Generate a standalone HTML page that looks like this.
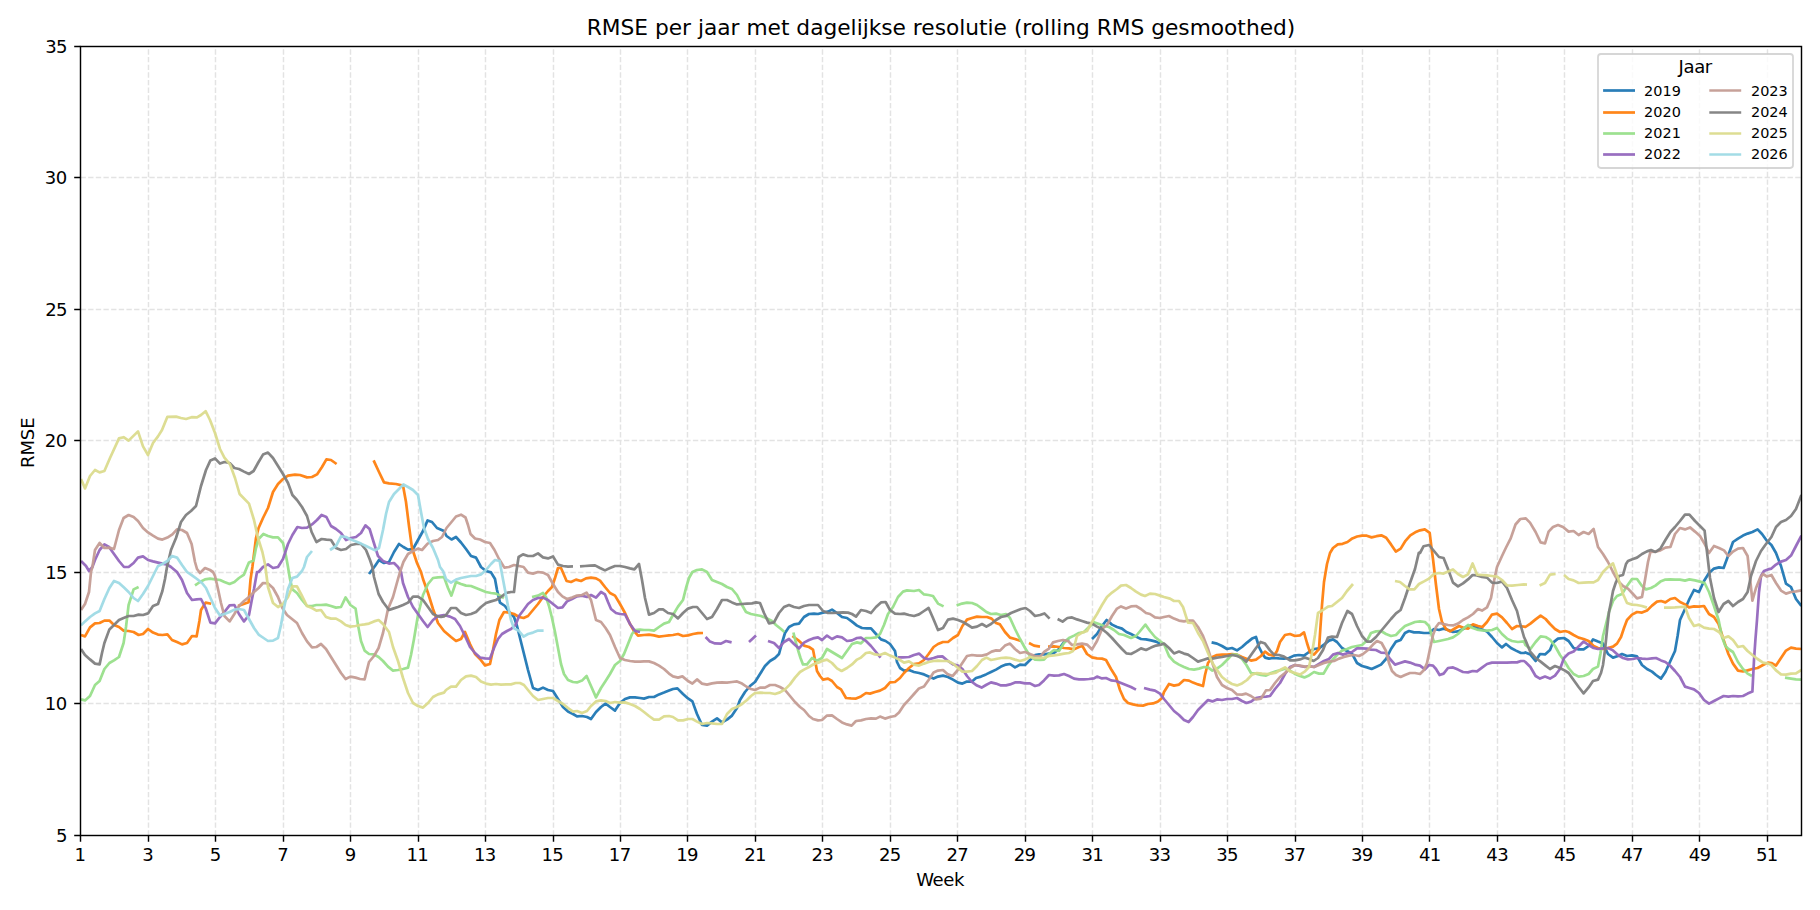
<!DOCTYPE html>
<html><head><meta charset="utf-8"><title>RMSE per jaar</title>
<style>html,body{margin:0;padding:0;background:#fff}svg{display:block}</style></head>
<body>
<svg width="1820" height="910" viewBox="0 0 1820 910" font-family="DejaVu Sans, Liberation Sans, sans-serif">
<rect width="1820" height="910" fill="#fff"/>
<path d="M148.50 835.5 V46.5 M215.50 835.5 V46.5 M283.50 835.5 V46.5 M350.50 835.5 V46.5 M418.50 835.5 V46.5 M485.50 835.5 V46.5 M553.50 835.5 V46.5 M620.50 835.5 V46.5 M687.50 835.5 V46.5 M755.50 835.5 V46.5 M822.50 835.5 V46.5 M890.50 835.5 V46.5 M957.50 835.5 V46.5 M1025.50 835.5 V46.5 M1092.50 835.5 V46.5 M1160.50 835.5 V46.5 M1227.50 835.5 V46.5 M1295.50 835.5 V46.5 M1362.50 835.5 V46.5 M1429.50 835.5 V46.5 M1497.50 835.5 V46.5 M1564.50 835.5 V46.5 M1632.50 835.5 V46.5 M1699.50 835.5 V46.5 M1767.50 835.5 V46.5 M80.5 703.50 H1801.5 M80.5 572.50 H1801.5 M80.5 440.50 H1801.5 M80.5 309.50 H1801.5 M80.5 177.50 H1801.5" stroke="#b0b0b0" stroke-opacity="0.35" stroke-width="1.444" stroke-dasharray="5.344 2.311" fill="none"/>
<clipPath id="c"><rect x="80.5" y="46.5" width="1721.0" height="789.0"/></clipPath>
<g clip-path="url(#c)" fill="none" stroke-width="2.71" stroke-linejoin="round" stroke-linecap="butt" stroke-opacity="0.95">
<path d="M369.0 574.0 L375.0 566.0 L379.0 560.0 L384.0 563.0 L389.0 562.0 L394.0 552.0 L399.0 544.0 L403.4 547.0 L408.0 549.6 L413.0 549.0 L418.0 540.0 L423.0 531.0 L427.6 520.4 L432.0 522.0 L437.0 528.0 L444.0 531.0 L446.5 536.0 L451.5 539.5 L456.0 537.0 L461.0 542.5 L466.0 549.0 L471.0 556.0 L476.0 557.6 L481.0 567.0 L486.0 571.0 L491.0 572.4 L495.0 579.0 L497.0 590.0 L500.0 602.6 L505.0 606.0 L510.0 613.0 L514.0 617.0 L517.0 626.0 L520.0 638.0 L524.0 654.0 L528.0 670.0 L533.0 688.0 L538.0 690.0 L543.0 687.6 L548.0 690.0 L553.0 691.0 L558.0 699.0 L563.0 707.0 L568.0 711.6 L573.0 714.0 L577.0 716.4 L582.0 716.0 L587.0 717.0 L591.0 719.0 L596.0 712.0 L601.0 707.0 L605.6 703.6 L610.0 707.0 L615.0 710.6 L620.0 703.0 L625.0 699.0 L630.0 697.4 L635.0 697.4 L640.0 698.0 L644.0 698.6 L649.0 697.0 L654.0 697.0 L659.0 694.4 L664.0 692.6 L669.0 690.6 L673.0 689.0 L677.4 688.4 L683.0 694.0 L688.0 698.4 L692.4 701.4 L697.0 714.0 L702.0 725.0 L707.0 725.6 L712.0 721.6 L717.0 718.4 L722.0 722.4 L727.0 719.6 L732.0 715.6 L737.0 708.0 L740.0 700.0 L745.0 692.0 L750.0 686.0 L755.0 682.0 L760.0 674.0 L765.0 666.0 L770.0 661.0 L775.0 658.0 L779.0 654.0 L782.0 643.0 L785.0 633.0 L789.0 627.0 L794.0 624.4 L799.0 623.6 L804.0 617.0 L809.0 614.0 L814.0 613.6 L818.0 614.0 L823.0 612.6 L828.0 611.6 L832.0 609.6 L837.0 613.0 L842.0 617.0 L847.0 618.0 L852.0 621.6 L857.0 625.6 L862.0 628.0 L867.0 628.4 L871.0 628.4 L876.0 634.0 L881.0 639.4 L885.6 641.0 L890.0 644.0 L895.0 651.0 L897.0 662.0 L900.0 668.0 L904.0 670.6 L909.0 670.0 L914.0 672.0 L919.0 673.0 L924.0 674.4 L928.6 676.4 L933.6 678.6 L938.0 676.6 L943.0 675.6 L948.0 677.0 L953.0 679.6 L958.0 682.6 L962.4 683.6 L967.0 681.6 L972.0 681.6 L976.0 678.0 L981.0 676.6 L986.0 674.4 L991.0 672.0 L996.0 669.6 L1001.0 666.6 L1006.0 664.6 L1010.0 664.0 L1015.0 667.4 L1020.0 664.6 L1025.0 665.0 L1030.0 660.0 L1035.0 655.0 L1039.0 654.4 L1044.0 654.4 L1049.0 653.6 L1054.0 653.0 L1059.0 649.0 L1064.0 642.0 L1069.0 639.0 M1092.0 639.0 L1097.0 634.0 L1102.0 626.0 L1106.6 620.0 L1112.0 624.6 L1117.0 627.0 L1122.0 628.6 L1126.4 632.0 L1131.0 634.0 L1136.0 636.6 L1141.0 639.0 L1146.0 639.4 L1151.0 640.4 L1156.0 641.6 L1160.0 643.6 M1211.6 642.4 L1217.0 643.6 L1222.0 646.0 L1227.0 649.0 L1232.0 648.0 L1237.0 650.4 L1242.0 647.0 L1247.0 642.6 L1252.0 638.6 L1256.0 637.0 L1259.0 647.0 L1262.0 653.0 L1265.0 657.6 L1269.0 658.6 L1274.0 658.0 L1279.0 658.4 L1284.0 658.6 L1289.0 658.0 L1294.0 655.6 L1299.0 655.0 L1304.0 655.6 L1309.0 652.0 L1314.0 649.0 L1319.0 648.4 L1324.0 644.6 L1329.0 640.6 L1333.0 639.4 L1337.0 642.0 L1342.0 648.0 L1347.0 651.0 L1352.0 653.6 L1357.0 663.0 L1362.0 666.0 L1367.0 667.4 L1371.6 669.0 L1376.0 667.0 L1381.0 664.6 L1386.0 659.0 L1391.0 649.0 L1396.0 641.6 L1400.6 640.0 L1405.0 633.0 L1409.0 631.0 L1414.0 632.4 L1419.0 632.4 L1424.0 633.0 L1429.0 633.0 L1434.0 629.0 L1439.0 630.0 L1443.6 628.6 L1448.0 630.0 L1453.0 632.0 L1458.0 631.4 L1463.0 629.0 L1468.0 626.0 L1472.6 625.4 L1477.0 628.0 L1482.0 629.6 L1487.0 631.6 L1492.0 637.0 L1497.0 643.0 L1502.0 647.4 L1506.0 644.0 L1511.0 648.0 L1516.0 650.6 L1521.0 653.0 L1524.0 653.0 L1525.4 652.4 L1530.4 654.6 L1535.6 661.0 L1540.0 654.0 L1545.0 654.4 L1550.0 650.0 L1553.0 642.6 L1558.0 638.6 L1564.0 638.0 L1568.6 641.0 L1573.6 648.0 L1578.6 649.4 L1583.6 649.4 L1588.6 646.0 L1593.0 639.4 L1598.0 641.6 L1603.0 643.6 L1608.0 654.0 L1613.0 657.6 L1618.0 656.0 L1622.0 654.0 L1627.0 656.0 L1632.0 655.4 L1637.0 656.4 L1642.0 665.0 L1647.0 669.0 L1652.0 671.6 L1656.0 675.0 L1661.0 678.6 L1665.4 672.0 L1670.4 661.0 L1675.0 651.0 L1677.6 636.0 L1680.0 620.0 L1685.0 609.0 L1689.4 599.0 L1694.0 590.0 L1699.0 592.0 L1704.0 581.0 L1709.0 573.0 L1714.0 568.6 L1719.0 567.4 L1723.6 568.0 L1728.4 555.0 L1733.0 542.0 L1738.0 538.6 L1743.0 535.6 L1747.6 533.6 L1752.4 532.0 L1757.6 529.4 L1762.0 534.0 L1767.0 541.0 L1771.4 545.0 L1776.0 553.0 L1781.0 566.0 L1786.0 583.6 L1791.0 587.0 L1796.0 599.0 L1801.4 606.0" stroke="#1f77b4"/>
<path d="M81.0 635.0 L85.0 636.4 L90.0 627.4 L95.0 623.4 L99.6 623.0 L104.4 620.6 L109.4 620.6 L114.0 625.0 L119.0 627.0 L123.6 630.6 L128.6 631.0 L133.6 632.0 L138.6 635.0 L143.0 634.0 L148.0 629.0 L153.0 632.6 L158.0 634.6 L162.4 635.0 L167.4 634.4 L172.0 640.0 L177.0 642.0 L182.0 644.4 L187.0 643.0 L192.0 636.0 L196.6 636.4 L199.4 621.0 L201.0 610.0 L205.6 602.6 L211.2 603.8 M238.0 606.1 L248.6 602.2 L250.5 579.8 L252.4 567.0 L256.0 538.0 L258.6 528.0 L263.0 518.0 L268.0 508.0 L273.0 492.0 L278.0 484.0 L283.0 479.0 L288.0 475.6 L295.0 474.6 L300.0 475.0 L307.0 477.4 L312.0 477.0 L317.0 474.4 L322.0 467.0 L326.4 459.4 L331.0 460.0 L336.6 464.0 M373.6 460.4 L379.0 472.0 L384.0 482.4 L389.0 483.4 L396.0 484.0 L403.0 485.6 L406.0 502.0 L409.0 526.0 L412.0 548.0 L417.0 563.0 L421.0 572.0 L423.0 579.0 L428.0 593.0 L433.0 609.0 L438.0 623.0 L444.0 631.0 L451.0 637.0 L456.0 641.0 L461.0 639.0 L465.0 632.0 L470.0 644.0 L475.0 654.0 L480.0 659.0 L485.0 665.4 L490.0 664.0 L493.0 650.0 L496.0 634.0 L499.4 620.0 L504.0 612.0 L509.0 612.6 L514.0 614.0 L519.0 617.0 L523.6 618.0 L528.0 616.0 L533.0 610.0 L538.0 604.0 L543.0 597.0 L548.0 591.0 L552.0 587.0 L555.0 578.0 L558.0 568.0 L561.0 568.0 L563.6 574.0 L566.6 581.0 L571.0 582.0 L576.0 579.6 L581.0 581.0 L586.0 578.4 L591.0 577.6 L596.0 578.4 L600.0 580.6 L605.0 587.0 L610.0 593.0 L615.0 595.6 L620.0 604.0 L625.0 613.0 L630.0 624.0 L634.0 631.0 L638.0 635.6 L644.0 635.0 L649.0 634.6 L654.0 635.4 L659.0 636.6 L664.0 636.0 L669.0 635.4 L673.0 635.0 L678.0 634.0 L683.0 636.0 L688.0 635.4 L693.0 634.0 L698.0 633.2 L703.0 633.0 M792.4 636.0 L798.0 640.0 L804.0 645.6 L809.0 647.0 L813.0 649.6 L815.0 660.0 L817.0 671.0 L820.0 676.0 L823.0 679.6 L828.0 678.6 L832.0 681.0 L837.0 687.0 L841.0 689.4 L846.0 698.0 L851.0 698.4 L856.0 698.6 L861.0 696.4 L866.0 693.0 L870.0 693.6 L875.0 692.0 L880.0 690.6 L885.0 688.0 L890.0 682.4 L895.0 682.0 L900.0 678.0 L904.0 673.0 L909.0 668.0 L914.0 664.0 L919.0 663.4 L924.0 660.0 L928.6 654.0 L933.6 647.0 L938.0 644.0 L943.0 642.0 L948.0 642.0 L953.0 638.0 L958.0 635.0 L962.4 626.0 L967.0 619.6 L972.0 618.0 L977.0 616.6 L982.0 617.0 L987.0 617.0 L991.6 618.6 L996.0 623.0 L1000.0 624.4 L1005.0 632.0 L1010.0 637.6 L1015.0 639.0 L1021.0 641.0 M1029.0 643.0 L1034.0 645.6 L1040.0 646.6 M1048.0 646.6 L1054.0 646.4 L1059.0 647.0 L1064.0 648.0 L1069.0 648.4 L1074.0 649.4 L1079.0 647.0 L1082.4 646.0 L1087.0 654.0 L1092.0 657.4 L1097.0 658.4 L1102.0 658.6 L1106.0 660.0 L1111.0 669.0 L1116.0 677.0 L1120.0 690.0 L1124.0 699.0 L1128.0 703.0 L1133.0 704.4 L1138.0 705.4 L1143.0 705.6 L1148.0 704.0 L1153.0 703.4 L1158.0 701.6 L1162.0 698.0 L1164.0 692.0 L1169.0 684.0 L1174.0 685.6 L1179.0 684.6 L1184.0 680.0 L1189.0 680.6 L1193.0 682.6 L1198.0 684.4 L1203.0 686.0 L1205.0 675.0 L1208.0 663.0 L1212.4 657.0 L1217.0 655.0 L1222.0 654.6 L1227.0 654.6 L1232.0 654.0 L1237.0 654.6 L1242.0 657.0 L1247.0 659.0 L1251.0 660.6 L1256.0 659.6 L1261.0 656.0 L1265.0 651.6 L1269.0 654.6 L1274.0 655.6 L1277.0 651.0 L1280.0 642.0 L1285.0 635.0 L1290.0 634.0 L1295.0 636.0 L1300.0 635.4 L1304.0 632.4 L1307.0 643.0 L1310.0 652.4 L1314.0 654.6 L1319.0 649.0 L1320.6 625.0 L1322.0 605.0 L1324.0 582.0 L1327.0 564.0 L1330.0 553.0 L1333.0 548.0 L1337.8 544.4 L1342.6 543.8 L1347.5 542.0 L1352.3 538.4 L1357.1 536.5 L1362.0 535.6 L1366.8 535.7 L1371.6 537.4 L1376.5 536.2 L1381.3 535.3 L1386.2 537.7 L1391.0 544.4 L1395.8 551.6 L1400.7 548.6 L1405.5 540.8 L1410.3 535.3 L1415.2 532.3 L1420.0 530.3 L1424.8 529.3 L1429.7 532.9 L1431.5 548.0 L1433.0 559.0 L1436.0 585.0 L1439.0 609.0 L1442.0 622.0 L1446.0 629.0 L1450.0 631.4 L1454.0 629.0 L1459.0 626.0 L1464.0 628.0 L1468.0 628.6 L1473.0 624.4 L1478.0 626.0 L1482.4 627.0 L1487.0 622.0 L1492.0 614.6 L1497.0 613.6 L1502.0 617.4 L1507.0 623.0 L1512.0 629.0 L1517.0 626.0 L1524.0 626.6 L1525.4 627.0 L1530.4 623.6 L1535.6 619.4 L1540.6 615.6 L1545.6 619.0 L1550.0 624.0 L1555.0 629.0 L1560.0 632.0 L1565.0 631.0 L1568.6 632.0 L1573.6 635.0 L1578.6 637.6 L1583.6 639.0 L1588.6 641.0 L1593.6 646.0 L1598.0 648.0 L1603.0 649.0 L1608.0 648.0 L1613.0 646.6 L1617.0 643.6 L1621.0 637.0 L1624.0 628.0 L1627.0 620.0 L1632.0 614.6 L1637.0 612.0 L1642.0 612.6 L1647.0 610.6 L1652.0 605.6 L1657.0 601.6 L1661.0 601.0 L1665.4 602.4 L1670.4 599.0 L1675.0 598.0 L1680.0 602.0 L1685.0 604.4 L1689.0 607.4 L1694.0 606.4 L1699.0 606.6 L1704.0 606.0 L1709.0 614.0 L1714.0 617.0 L1718.6 624.0 L1723.6 640.0 L1728.4 654.0 L1733.0 663.6 L1738.0 670.6 L1743.0 671.4 L1747.6 670.4 L1752.4 669.0 L1757.6 668.0 L1763.0 665.0 L1768.0 662.6 L1771.4 663.0 L1776.0 665.6 L1781.0 658.0 L1786.0 650.6 L1791.0 647.6 L1796.0 648.6 L1801.4 649.0" stroke="#ff7f0e"/>
<path d="M81.0 699.4 L85.0 700.4 L90.0 696.0 L95.0 685.0 L99.6 681.0 L104.4 669.0 L109.4 663.0 L114.0 660.4 L119.0 657.0 L123.6 643.0 L126.0 627.0 L128.6 605.0 L133.6 589.4 L138.6 587.0 M195.0 585.4 L200.0 582.0 L205.0 579.4 L210.0 578.6 L215.0 579.4 L220.0 580.0 L224.4 582.0 L229.6 584.0 L234.4 582.0 L239.0 578.0 L244.0 574.6 L247.0 567.0 L249.0 562.4 L253.6 560.4 L256.0 548.0 L258.6 539.0 L263.4 534.0 L268.0 536.0 L273.0 537.4 L278.0 537.4 L283.0 543.0 L286.0 556.0 L288.0 567.0 L290.0 579.0 L292.4 589.4 L297.0 593.0 L302.0 600.0 L307.0 606.0 L312.0 606.0 L316.4 605.0 L321.0 605.0 L326.0 604.6 L331.0 606.0 L336.0 607.6 L341.0 607.0 L345.6 597.4 L350.4 605.0 L355.6 608.6 L358.0 625.0 L361.0 641.0 L364.6 650.6 L369.0 654.0 L374.0 654.4 L378.6 657.0 L383.0 661.0 L388.0 666.6 L393.0 670.6 L398.0 670.0 L403.0 669.0 L408.0 667.6 L411.0 655.0 L414.0 639.0 L418.0 615.0 L423.0 595.0 L428.0 584.0 L433.0 578.0 L438.0 577.4 L444.0 577.0 L448.0 588.0 L451.4 595.6 L456.0 582.0 L461.0 584.0 L466.0 585.6 L471.0 586.0 L476.0 588.0 L481.0 590.0 L486.0 592.0 L491.0 593.0 L496.0 593.6 L501.0 596.0 L504.0 598.0 M532.0 597.0 L538.0 595.6 L543.0 593.0 L546.0 597.0 L549.0 606.0 L552.0 618.0 L555.0 632.0 L558.0 648.0 L561.0 664.0 L564.0 674.0 L568.0 680.0 L573.0 682.0 L577.0 682.4 L582.0 680.6 L586.6 676.0 L591.0 686.0 L596.0 697.4 L601.0 688.0 L605.6 681.0 L610.0 674.0 L615.0 665.0 L620.0 661.0 L624.0 654.0 L628.0 644.0 L632.0 634.0 L635.0 630.0 L640.0 629.6 L644.0 630.0 L649.0 630.0 L654.0 630.6 L659.0 627.0 L664.0 623.6 L669.0 622.0 L673.0 615.0 L678.0 606.6 L683.0 600.0 L686.0 588.0 L689.0 578.0 L692.4 572.0 L697.0 570.0 L702.0 569.4 L707.0 572.0 L712.0 580.0 L717.0 582.0 L722.0 584.0 L727.0 587.0 L732.0 589.0 L737.0 595.0 L742.0 605.0 L746.0 612.0 L751.0 614.0 L756.0 615.0 L761.0 616.0 L766.0 618.0 L772.0 621.0 L776.0 625.0 L781.0 629.0 L784.4 632.0 M793.4 632.5 L795.5 641.0 L798.0 650.0 L800.5 658.0 L803.0 664.4 L807.0 664.4 L812.0 658.0 L817.0 660.6 L822.0 658.0 L827.0 649.0 L832.0 652.0 L837.0 655.0 L842.0 658.0 L847.0 651.0 L852.0 644.0 L857.0 642.4 L861.0 643.4 L866.0 638.0 L871.0 638.0 L876.0 637.4 L880.0 634.0 L884.0 625.0 L888.0 614.0 L893.0 607.0 L898.0 597.0 L903.0 591.6 L907.0 590.4 L914.0 591.0 L919.0 590.0 L924.0 594.4 L928.6 595.0 L933.0 596.0 L938.0 603.6 L943.6 606.4 M956.6 605.6 L962.0 603.6 L967.0 602.6 L972.0 603.0 L977.0 605.0 L982.0 608.6 L986.4 612.0 L991.0 614.0 L996.0 613.6 L1001.0 615.0 L1006.0 614.0 L1010.0 618.0 L1015.0 629.0 L1020.0 639.0 L1025.0 648.0 L1030.0 656.0 L1035.0 659.6 L1040.0 660.0 L1044.0 659.6 L1049.0 654.0 L1054.0 650.0 L1059.0 651.0 L1064.0 643.0 L1069.0 638.0 L1074.0 635.6 L1079.0 633.0 L1084.0 632.0 L1089.0 627.0 L1094.0 622.4 L1099.0 624.0 L1104.0 626.0 L1109.0 627.0 L1114.0 630.0 L1119.0 634.0 L1124.0 635.0 L1131.0 638.0 L1136.0 636.0 L1141.0 630.0 L1145.4 624.6 L1150.0 631.0 L1155.0 637.0 L1160.0 641.0 L1164.0 644.0 L1169.0 656.0 L1174.0 661.6 L1179.0 664.6 L1184.0 667.0 L1189.0 669.0 L1194.0 669.6 L1199.0 668.6 L1204.0 667.0 L1208.0 667.4 L1212.4 670.6 L1217.0 668.6 L1222.0 665.0 L1227.0 660.0 L1232.0 654.6 L1237.0 654.6 L1242.0 659.0 L1246.4 665.0 L1251.0 673.0 L1256.0 673.6 L1261.0 675.0 L1266.0 675.6 L1271.0 673.0 L1276.0 671.4 L1281.0 670.0 L1285.0 668.6 L1290.0 670.6 L1295.0 674.0 L1300.0 676.0 L1304.4 677.4 L1309.0 675.4 L1314.0 672.0 L1319.0 673.6 L1323.6 673.6 L1328.0 666.0 L1332.4 660.0 L1337.0 655.0 L1342.0 650.6 L1347.0 649.0 L1352.0 647.0 L1357.0 646.0 L1362.0 645.0 L1367.0 640.6 L1371.0 633.0 L1376.0 631.4 L1381.0 631.0 L1386.0 634.0 L1391.0 636.0 L1396.0 635.0 L1400.6 630.0 L1405.0 626.0 L1410.0 624.0 L1415.0 622.0 L1420.0 621.4 L1425.0 622.0 L1429.0 626.0 L1431.6 635.0 L1434.0 642.0 L1439.0 641.0 L1443.6 640.0 L1448.0 639.0 L1453.0 637.4 L1458.0 634.0 L1463.0 629.0 L1468.0 625.0 L1472.6 628.0 L1477.0 629.6 L1482.0 630.4 L1487.0 630.6 L1492.0 630.0 L1497.0 628.0 L1502.0 634.0 L1507.0 638.6 L1512.0 641.0 L1518.0 642.0 L1524.0 641.4 L1525.4 645.0 L1530.4 649.0 L1535.6 642.0 L1540.6 636.4 L1545.6 637.0 L1550.0 639.6 L1555.0 646.0 L1560.0 655.0 L1565.0 662.0 L1568.6 668.0 L1573.6 674.0 L1578.6 676.6 L1583.6 676.0 L1588.6 674.0 L1593.0 669.0 L1598.0 666.6 L1600.4 654.0 L1603.0 636.0 L1606.0 624.0 L1609.0 612.0 L1613.0 601.0 L1617.0 596.0 L1622.0 594.0 L1627.0 586.0 L1632.0 579.0 L1637.0 579.0 L1642.0 586.0 L1646.0 589.4 L1651.0 588.0 L1655.4 585.6 L1660.4 581.6 L1665.4 579.6 L1670.4 579.4 L1675.0 579.6 L1680.0 579.6 L1685.0 580.6 L1689.4 579.4 L1695.0 580.4 L1700.0 581.6 L1704.6 583.0 L1709.0 592.0 L1714.0 606.0 L1718.6 620.0 L1722.0 637.0 L1725.4 646.0 L1728.4 649.0 L1733.0 652.0 L1738.0 662.0 L1743.0 669.0 L1747.6 673.6 L1752.0 676.0 M1785.0 677.6 L1791.0 678.6 L1796.0 679.4 L1801.4 679.6" stroke="#98df8a"/>
<path d="M81.0 561.0 L86.0 566.0 L89.0 571.0 L92.4 567.0 L95.0 560.0 L99.6 550.0 L104.4 544.4 L109.0 547.0 L114.0 554.0 L119.0 561.0 L124.0 567.0 L128.6 567.0 L133.6 563.0 L138.0 557.6 L143.0 556.4 L148.0 560.0 L153.0 561.4 L158.0 562.6 L162.4 563.6 L167.4 564.6 L171.0 567.0 L177.0 572.0 L182.0 580.0 L187.0 593.0 L192.0 600.0 L196.6 599.4 L201.0 599.0 L205.6 608.0 L210.4 622.6 L215.0 623.4 L220.0 617.0 L224.4 612.0 L229.6 605.4 L234.4 605.0 L239.0 614.0 L244.0 621.4 L249.0 615.0 L251.6 601.0 L254.0 589.0 L257.0 572.0 L258.6 572.0 L263.0 567.0 L268.0 564.4 L273.0 568.0 L278.0 567.0 L283.0 559.0 L288.0 544.0 L292.4 535.0 L297.4 527.0 L302.0 528.0 L307.0 527.6 L312.0 524.4 L317.0 520.0 L321.6 515.0 L326.4 517.0 L331.0 526.0 L336.0 529.0 L341.0 533.0 L346.0 540.0 L351.0 538.0 L356.0 537.0 L361.0 533.0 L365.4 525.4 L369.6 529.0 L373.6 542.0 L378.0 556.0 L383.0 561.0 L389.0 563.6 L394.0 563.0 L398.0 567.0 L401.0 572.0 L403.0 583.0 L408.0 597.0 L413.0 607.0 L418.0 614.0 L423.0 621.0 L427.6 627.0 L433.0 620.0 L438.0 616.0 L444.0 615.0 L450.0 616.6 L455.0 619.0 L460.0 626.0 L465.0 636.0 L470.0 647.0 L475.0 653.0 L480.0 657.6 L485.0 658.4 L490.0 658.6 L494.0 648.0 L498.0 639.0 L502.0 634.0 L507.0 631.0 L511.0 629.0 L515.6 625.0 L519.0 616.0 L523.6 610.0 L528.0 604.0 L533.0 600.0 L538.0 598.0 L543.0 597.6 L548.0 600.0 L553.0 604.0 L558.0 608.0 L562.4 607.4 L567.0 601.4 L572.0 599.0 L577.0 596.4 L582.0 595.6 L587.0 597.0 L591.0 595.0 L596.0 597.6 L601.0 592.0 L605.0 594.4 L608.0 602.0 L611.0 609.0 L616.0 613.0 L620.0 614.0 L625.0 614.4 L630.0 624.0 L635.0 631.0 L640.0 632.0 M705.6 637.0 L710.0 641.6 L715.0 643.4 L721.0 643.6 L726.0 641.0 L731.6 642.4 M749.0 642.0 L756.0 635.6 M768.0 641.0 L774.0 643.0 L779.0 648.0 L784.0 642.0 L789.0 639.0 L794.0 644.0 L799.0 648.4 L804.0 642.6 L809.0 640.0 L813.0 638.4 L818.0 637.4 L822.0 640.0 L827.0 635.6 L832.0 639.0 L837.0 636.4 L842.0 637.4 L847.0 641.0 L852.0 640.4 L857.0 638.0 L861.0 637.6 L866.0 641.0 L871.0 646.0 L876.0 652.0 L880.6 657.6 M898.0 657.4 L903.0 657.4 L909.0 657.0 L914.0 655.0 L919.0 653.6 L924.0 658.0 L928.6 659.4 L933.6 658.0 L938.0 656.6 L942.4 656.4 L948.0 661.0 L953.0 664.4 L958.0 665.6 L962.4 669.0 L967.0 676.0 L972.0 682.0 L977.0 685.6 L981.6 687.6 L986.0 685.0 L991.0 682.4 L996.0 683.6 L1001.0 685.4 L1006.0 685.4 L1010.0 684.4 L1015.0 682.4 L1020.0 682.4 L1025.0 683.4 L1030.0 683.4 L1035.0 686.0 L1039.0 685.0 L1044.0 680.4 L1049.0 675.0 L1054.0 675.6 L1059.0 675.4 L1064.0 674.0 L1069.0 676.0 L1074.0 678.6 L1079.0 679.4 L1084.0 679.4 L1089.0 679.0 L1094.0 678.4 L1097.0 676.6 L1102.0 678.4 L1106.0 678.0 L1111.0 680.4 L1116.0 681.0 L1121.0 683.0 L1126.0 685.0 L1131.0 687.0 L1136.0 689.6 M1144.0 688.0 L1150.0 689.6 L1155.0 690.6 L1160.0 693.6 L1164.0 699.0 L1169.0 705.0 L1174.0 711.0 L1179.0 715.0 L1184.0 720.0 L1188.6 722.0 L1193.0 717.0 L1198.0 710.0 L1203.0 705.0 L1208.0 700.0 L1212.4 701.4 L1217.0 699.4 L1222.0 700.0 L1227.0 699.0 L1232.0 699.0 L1237.0 698.0 L1242.0 701.0 L1246.4 703.0 L1251.0 701.6 L1256.0 698.0 L1261.0 697.0 L1266.0 696.6 L1270.0 696.0 L1275.0 689.0 L1280.0 683.0 L1285.0 674.0 L1290.0 667.0 L1295.0 665.0 L1300.0 666.0 L1305.0 667.0 L1309.0 666.0 L1314.0 667.0 L1319.0 664.0 L1324.0 661.0 L1329.0 659.0 L1333.0 654.6 L1338.0 653.0 L1343.0 654.6 L1348.0 653.0 L1352.0 652.0 L1357.0 648.4 L1362.0 648.4 L1367.0 648.6 L1371.0 649.6 L1376.0 650.0 L1381.0 652.6 L1386.0 653.0 L1390.0 659.0 L1395.0 664.6 L1400.0 663.0 L1405.0 661.4 L1410.0 662.6 L1415.0 664.6 L1420.0 665.6 L1425.0 669.4 L1429.0 665.0 L1433.0 665.6 L1436.0 669.0 L1439.6 675.0 L1443.6 673.6 L1448.0 668.0 L1453.0 667.4 L1458.0 669.6 L1463.0 672.0 L1468.0 672.4 L1472.6 671.0 L1477.0 671.4 L1482.0 667.6 L1487.0 664.0 L1492.0 662.6 L1497.0 662.6 L1502.0 662.6 L1507.0 662.6 L1512.0 662.4 L1517.0 662.4 L1521.0 661.0 L1524.0 661.0 L1525.4 662.0 L1530.4 667.0 L1535.6 676.0 L1540.0 678.6 L1545.0 676.6 L1550.0 678.6 L1555.0 675.6 L1560.0 669.0 L1564.0 658.0 L1568.6 653.6 L1573.6 651.6 L1578.6 646.4 L1583.6 641.6 L1588.6 645.0 L1593.6 648.0 L1598.0 649.0 L1603.0 648.4 L1608.0 648.0 L1613.0 650.4 L1618.0 655.0 L1623.0 658.0 L1628.0 659.4 L1633.0 659.0 L1637.0 658.0 L1642.0 658.6 L1647.0 659.0 L1652.0 658.4 L1656.0 658.0 L1661.0 660.4 L1665.4 662.0 L1670.4 666.0 L1675.0 671.0 L1680.0 677.0 L1685.0 686.6 L1689.4 688.0 L1694.0 689.4 L1699.0 693.0 L1704.0 700.0 L1709.0 703.6 L1714.0 701.0 L1719.0 698.4 L1723.6 696.0 L1728.4 696.6 L1733.0 696.0 L1738.0 696.4 L1743.0 696.0 L1747.6 693.6 L1752.4 691.6 L1754.0 660.0 L1755.4 640.0 L1757.0 620.0 L1759.0 592.0 L1761.0 576.0 L1764.0 571.0 L1768.0 569.4 L1771.4 568.6 L1776.0 564.6 L1781.0 561.6 L1786.0 560.0 L1791.0 555.6 L1796.0 546.0 L1801.4 535.6" stroke="#9467bd"/>
<path d="M81.0 610.0 L85.0 604.0 L89.0 592.0 L91.0 572.0 L92.4 567.0 L95.0 550.0 L99.6 543.0 L104.4 548.0 L109.0 547.6 L114.0 549.0 L119.0 530.0 L123.6 518.0 L128.6 515.0 L133.6 517.0 L138.0 521.0 L143.0 528.0 L148.0 532.4 L153.0 535.6 L158.0 538.6 L162.4 539.6 L167.4 537.6 L172.4 534.4 L177.0 529.4 L182.0 530.0 L187.0 533.0 L191.6 544.0 L195.0 562.0 L197.0 569.0 L200.0 573.0 L205.0 568.0 L210.0 570.0 L213.0 572.0 L215.0 576.0 L218.0 589.0 L221.0 603.0 L224.4 616.0 L229.6 621.4 L234.4 614.0 L239.0 606.0 L244.0 601.0 L249.0 597.0 L254.0 592.0 L258.6 588.0 L263.0 583.0 L268.0 583.4 L273.0 588.0 L278.0 597.0 L282.4 608.0 L287.0 615.0 L292.0 619.0 L297.0 623.0 L302.0 633.0 L307.0 641.4 L312.0 647.4 L316.4 647.0 L321.0 644.0 L326.0 649.0 L331.0 657.0 L336.0 665.0 L341.0 673.0 L345.6 679.0 L350.4 676.6 L355.6 677.6 L360.0 679.0 L364.6 679.4 L369.0 662.0 L374.0 656.0 L378.6 648.0 L383.0 633.0 L388.0 609.0 L393.0 597.0 L398.0 579.0 L400.0 572.0 L403.4 562.0 L408.0 554.0 L413.0 551.0 L418.0 548.6 L422.0 550.0 L427.6 543.6 L433.0 541.0 L438.0 540.0 L442.0 537.0 L444.0 533.0 L446.5 528.0 L451.5 522.0 L456.0 516.5 L461.0 514.7 L465.5 517.5 L468.0 525.0 L470.5 534.0 L475.0 538.5 L480.0 539.5 L485.0 542.0 L490.0 543.0 L494.5 550.0 L499.0 559.0 L504.4 567.6 L509.0 567.0 L514.0 565.0 L519.0 566.0 L523.6 567.0 L528.0 572.6 L533.0 573.6 L538.0 572.0 L543.0 572.6 L548.0 575.0 L553.0 584.0 L558.0 592.0 L562.4 596.4 L567.0 599.0 L572.0 597.6 L577.0 595.6 L582.0 595.0 L586.6 592.6 L591.0 600.0 L594.0 612.0 L596.0 620.0 L601.0 622.0 L605.6 628.0 L610.0 635.0 L615.0 647.0 L620.0 658.0 L625.0 660.0 L630.0 661.0 L635.0 661.6 L640.0 661.6 L644.0 661.4 L649.0 661.4 L654.0 663.0 L659.0 665.6 L664.0 669.0 L669.0 673.6 L673.0 676.4 L678.0 677.6 L682.4 676.4 L688.0 681.0 L692.4 683.6 L697.0 679.4 L702.0 683.6 L707.0 684.6 L712.0 683.4 L717.0 682.6 L722.0 682.4 L727.0 682.6 L732.0 682.0 L737.0 681.4 L742.0 683.6 L747.0 687.0 L751.0 689.0 L755.0 690.0 L760.0 687.6 L765.0 687.6 L770.0 685.0 L775.0 685.0 L780.0 687.0 L785.0 690.0 L790.0 696.0 L795.0 702.0 L800.0 707.0 L804.0 710.0 L809.0 716.0 L813.0 719.0 L818.0 720.4 L822.0 720.0 L827.0 715.6 L832.0 715.4 L837.0 719.0 L842.0 722.4 L847.0 724.4 L851.6 725.6 L856.0 721.0 L861.0 720.4 L866.0 719.0 L871.0 718.4 L876.0 718.6 L880.0 716.6 L885.0 718.6 L890.0 717.0 L895.0 716.0 L899.0 712.4 L904.0 705.0 L909.0 699.6 L914.0 694.0 L919.0 688.4 L924.0 686.6 L928.6 680.0 L933.6 672.4 L938.0 670.6 L943.0 670.0 L948.0 674.4 L952.6 676.0 L957.0 671.0 L962.0 663.4 L967.0 656.0 L972.0 655.0 L977.0 655.6 L982.0 655.6 L987.0 654.4 L991.6 651.6 L996.0 650.4 L1000.0 650.6 L1005.0 645.6 L1010.0 643.6 L1015.0 649.0 L1020.0 653.0 L1025.0 652.0 L1030.0 654.0 L1035.0 656.0 L1040.0 656.6 L1044.4 651.6 L1049.0 648.6 L1053.0 642.4 L1058.0 641.0 L1063.0 640.0 L1068.0 641.0 L1072.0 645.0 L1077.0 644.4 L1082.0 643.6 L1087.0 644.6 L1092.0 649.4 L1097.0 641.0 L1102.0 629.0 L1107.0 625.0 L1112.0 616.0 L1117.0 608.6 L1121.0 606.4 L1126.0 608.6 L1131.0 606.4 L1136.0 606.0 L1141.0 609.0 L1146.0 613.0 L1150.0 614.0 L1155.0 617.4 L1160.0 618.0 L1164.0 617.0 L1169.0 616.0 L1174.0 618.6 L1179.0 620.6 L1184.0 621.4 L1188.0 620.6 L1193.0 620.6 L1198.0 627.0 L1203.0 636.0 L1208.0 649.0 L1212.4 663.0 L1217.0 677.0 L1222.0 685.0 L1227.0 688.0 L1232.0 690.0 L1237.0 694.4 L1242.0 694.6 L1246.0 693.6 L1251.0 696.0 L1256.0 699.4 L1261.0 698.6 L1266.0 690.4 L1270.0 690.0 L1275.0 683.0 L1280.0 677.0 L1285.0 673.0 L1290.0 668.0 L1295.0 665.0 L1300.0 665.6 L1305.0 666.6 L1309.0 666.4 L1314.0 667.0 L1319.0 665.0 L1324.0 663.0 L1329.0 661.6 L1334.0 661.0 L1339.0 658.6 L1344.0 657.0 L1349.0 655.6 L1354.0 655.0 L1359.0 656.0 L1363.0 654.0 L1368.0 650.0 L1373.0 644.6 L1377.0 641.0 L1381.6 643.0 L1386.0 651.0 L1389.0 663.0 L1392.0 671.0 L1396.0 675.0 L1400.6 677.0 L1405.0 675.0 L1410.0 673.0 L1415.0 673.0 L1420.0 674.0 L1424.0 670.0 L1427.0 663.0 L1430.0 649.0 L1433.0 635.0 L1436.0 627.0 L1439.0 623.0 L1443.6 624.0 L1448.0 625.0 L1453.0 625.4 L1458.0 623.6 L1463.0 620.0 L1468.0 617.4 L1473.0 614.0 L1478.0 609.0 L1482.0 610.6 L1487.0 607.4 L1491.0 598.0 L1494.0 581.0 L1497.0 567.0 L1502.0 556.0 L1505.8 548.0 L1510.7 538.4 L1515.5 524.5 L1520.3 519.0 L1525.8 518.4 L1530.0 522.6 L1535.6 532.0 L1540.6 542.4 L1545.0 543.4 L1548.6 531.6 L1553.0 527.0 L1558.0 525.0 L1563.0 527.0 L1568.6 531.6 L1573.6 531.0 L1578.6 535.0 L1583.6 532.0 L1588.6 534.0 L1593.6 529.0 L1598.0 547.0 L1603.0 554.0 L1608.0 562.0 L1613.0 572.0 L1618.0 581.0 L1623.0 586.0 L1628.0 588.6 L1633.0 594.0 L1637.0 598.4 L1642.0 597.0 L1645.0 580.0 L1648.0 562.0 L1650.4 552.0 L1655.4 551.6 L1660.4 550.4 L1665.4 547.6 L1670.4 547.0 L1675.0 534.0 L1680.0 528.0 L1685.0 529.4 L1690.0 527.4 L1695.0 531.6 L1700.0 536.0 L1705.0 544.6 L1709.0 553.0 L1714.0 546.0 L1719.0 548.0 L1724.0 550.4 L1728.4 556.0 L1733.0 551.6 L1738.0 548.6 L1743.0 548.0 L1747.6 556.0 L1750.0 578.0 L1752.4 600.6 L1756.0 588.0 L1760.0 578.0 L1763.0 574.0 L1767.0 576.6 L1771.4 575.0 L1776.0 583.0 L1781.0 590.6 L1786.0 593.6 L1791.0 592.0 L1796.0 591.4 L1801.4 590.4" stroke="#c49c94"/>
<path d="M81.0 649.0 L85.0 655.0 L90.0 659.4 L95.0 663.6 L99.6 664.4 L102.0 653.0 L104.4 643.0 L109.4 629.4 L114.0 625.0 L119.0 620.0 L123.6 618.0 L128.6 616.0 L133.6 616.0 L138.6 614.6 L143.0 615.0 L148.0 613.4 L153.0 606.0 L158.0 604.0 L162.4 591.0 L165.0 579.0 L167.0 567.0 L171.0 550.0 L176.0 538.0 L181.0 522.0 L186.0 515.0 L191.0 511.0 L196.0 506.0 L201.0 486.0 L206.0 470.0 L210.4 460.4 L215.0 458.4 L220.0 463.6 L224.4 462.0 L229.6 463.0 L234.4 468.0 L239.0 469.0 L244.0 471.6 L249.0 474.0 L253.6 471.0 L258.0 463.0 L263.0 454.6 L268.0 452.6 L273.0 458.0 L278.0 466.0 L283.0 474.0 L288.0 483.0 L292.4 495.0 L297.0 500.0 L302.0 507.0 L307.0 516.0 L311.6 532.0 L316.4 542.0 L321.6 539.0 L326.4 539.6 L331.0 540.0 L336.0 548.0 L341.0 550.0 L346.0 549.0 L351.0 545.0 L356.0 544.0 L361.0 544.0 L366.0 550.0 L370.0 560.0 L372.4 567.0 L374.0 577.0 L378.6 594.0 L383.0 602.0 L389.0 610.0 L393.0 608.6 L398.0 607.0 L403.0 605.0 L408.0 602.6 L413.0 596.6 L418.0 596.6 L423.0 600.0 L428.0 607.0 L433.0 614.0 L438.0 616.4 L441.0 617.0 L444.0 616.4 L446.0 615.0 L451.0 608.0 L456.0 608.0 L461.0 613.0 L466.0 615.0 L471.0 614.0 L476.0 612.0 L481.0 607.0 L486.0 603.0 L491.0 601.4 L496.0 600.0 L501.0 597.0 L506.0 593.0 L511.0 592.0 L514.0 592.0 L516.0 574.0 L518.6 557.0 L523.0 554.4 L528.0 556.0 L533.0 556.0 L538.0 553.4 L543.0 557.4 L548.0 558.4 L553.0 556.4 L558.0 564.6 L563.0 566.0 L568.0 566.6 L573.0 566.4 M580.0 566.4 L585.0 566.0 L590.0 565.6 L595.0 565.4 L600.0 568.0 L605.0 570.4 L610.0 568.0 L615.0 566.0 L620.0 566.0 L625.0 567.0 L630.0 568.4 L634.4 569.4 L639.0 564.0 L642.0 580.0 L645.0 598.0 L649.0 614.6 L654.0 613.0 L659.0 609.4 L663.0 609.4 L668.0 613.0 L673.0 614.0 L678.0 618.4 L683.0 613.0 L688.0 608.6 L693.0 607.0 L697.0 607.0 L702.0 613.0 L707.0 619.0 L712.0 617.0 L717.0 609.0 L722.0 600.0 L727.0 600.0 L732.0 602.4 L737.0 604.4 L742.0 604.0 L747.0 603.6 L752.0 603.4 L756.0 602.4 L760.0 603.0 L764.0 613.0 L769.0 623.4 L774.0 622.4 L779.0 613.0 L784.0 607.0 L789.0 605.0 L794.0 607.0 L799.0 608.0 L804.0 606.0 L809.0 605.0 L814.0 605.0 L818.0 605.0 L823.0 611.0 L828.0 613.0 L833.0 613.0 L838.0 612.6 L843.0 612.4 L848.0 612.6 L852.0 614.0 L856.0 616.6 L861.0 610.0 L866.0 611.0 L871.0 613.0 L876.0 607.0 L881.0 602.4 L885.6 602.0 L890.0 610.0 L895.0 613.6 L900.0 614.0 L904.0 613.6 L909.0 615.0 L914.0 616.0 L919.0 614.4 L924.0 611.0 L928.6 608.0 L933.0 618.0 L938.0 630.0 L943.0 628.0 L948.0 619.6 L953.0 618.6 L958.0 620.0 L963.0 622.0 L968.0 625.0 L972.0 627.6 L977.0 626.6 L982.0 624.0 L986.4 626.6 L991.0 624.0 L996.0 620.0 L1001.0 617.0 L1006.0 616.0 L1011.0 613.0 L1016.0 611.0 L1021.0 609.0 L1025.6 608.0 L1030.0 611.0 L1035.0 616.0 L1040.0 615.0 L1044.4 613.4 L1049.6 618.6 M1057.6 619.0 L1062.6 621.6 L1067.4 618.0 L1072.0 617.4 L1077.0 619.4 L1082.0 621.0 L1087.0 622.6 L1092.0 623.6 L1097.0 626.6 L1102.0 629.0 L1107.0 633.0 L1112.0 638.0 L1117.0 643.6 L1122.0 649.0 L1126.4 653.4 L1131.0 654.0 L1136.0 651.4 L1141.0 648.4 L1146.0 650.0 L1151.0 647.6 L1156.0 645.6 L1160.0 645.0 L1164.0 643.6 L1169.0 648.0 L1174.0 653.4 L1179.0 651.6 L1184.0 653.6 L1188.0 654.6 L1193.0 658.0 L1198.0 661.6 L1203.0 660.0 L1208.0 658.4 L1212.4 658.6 L1217.0 657.6 L1222.0 657.0 L1227.0 656.0 L1232.0 655.0 L1237.0 656.0 L1242.0 658.0 L1246.4 661.6 L1251.0 655.0 L1256.0 648.0 L1260.6 642.0 L1265.0 643.6 L1270.0 650.4 L1274.0 654.6 L1279.0 655.0 L1284.0 656.6 L1290.0 660.4 L1295.0 660.4 L1300.0 659.4 L1305.0 657.6 L1309.0 659.0 L1313.6 661.0 L1318.0 658.0 L1323.0 650.0 L1328.0 637.6 L1332.0 636.6 L1337.0 637.0 L1342.0 623.0 L1347.4 611.0 L1352.0 614.0 L1357.0 626.0 L1362.0 636.0 L1367.0 641.6 L1371.0 641.6 L1376.0 637.0 L1381.0 631.0 L1386.0 625.0 L1391.0 619.0 L1396.0 613.4 L1400.6 610.0 L1405.0 598.0 L1410.0 583.0 L1415.0 569.0 L1418.8 552.9 L1420.0 553.0 L1423.6 546.2 L1429.1 545.0 L1434.0 551.0 L1439.0 557.0 L1443.6 558.0 L1448.0 569.0 L1453.0 582.6 L1458.0 586.4 L1463.0 583.4 L1468.0 579.4 L1472.6 575.0 L1477.0 575.4 L1482.0 577.0 L1487.0 577.6 L1492.0 582.6 L1497.0 583.0 L1502.0 581.4 L1507.0 588.0 L1512.0 600.0 L1517.0 611.0 L1520.0 623.0 L1524.0 637.0 L1525.4 640.0 L1530.4 652.0 L1535.6 658.0 L1540.6 661.6 L1545.6 665.6 L1550.0 669.0 L1555.0 666.0 L1560.0 668.0 L1565.0 670.6 L1568.6 673.0 L1573.6 680.0 L1578.6 687.0 L1583.6 693.4 L1588.6 687.4 L1593.0 681.0 L1598.0 679.6 L1601.0 673.0 L1603.0 665.0 L1605.0 650.0 L1607.0 630.0 L1609.0 612.0 L1611.0 602.0 L1613.0 591.0 L1616.0 582.0 L1619.0 576.0 L1623.0 575.0 L1626.0 564.0 L1628.0 561.0 L1633.0 559.0 L1637.0 557.6 L1642.0 554.0 L1647.0 551.4 L1651.0 550.0 L1655.4 552.0 L1660.4 548.6 L1665.4 540.0 L1670.4 532.0 L1675.0 527.0 L1680.0 521.0 L1685.0 514.6 L1689.4 514.6 L1695.0 521.0 L1700.0 526.0 L1704.6 530.6 L1707.0 552.0 L1710.0 578.0 L1714.0 598.0 L1718.6 612.0 L1723.6 604.0 L1728.4 601.0 L1733.0 606.0 L1738.0 602.0 L1743.0 599.0 L1747.6 592.0 L1751.0 576.0 L1756.0 561.0 L1761.0 551.0 L1766.0 544.0 L1771.4 537.0 L1776.0 527.0 L1781.0 522.0 L1786.0 520.0 L1791.0 516.0 L1796.0 509.0 L1801.4 495.0" stroke="#7f7f7f"/>
<path d="M81.0 479.0 L85.0 488.4 L90.0 476.0 L95.0 470.0 L99.6 472.4 L104.4 471.0 L110.0 458.0 L119.0 438.4 L123.6 437.2 L128.6 440.6 L138.0 431.4 L143.0 446.4 L148.0 455.0 L153.0 443.0 L158.0 436.4 L162.0 430.0 L167.4 416.8 L176.0 416.6 L181.0 418.0 L186.0 419.0 L191.6 417.2 L197.0 417.4 L201.0 415.0 L205.6 411.2 L210.0 420.0 L215.0 433.0 L220.0 449.0 L224.4 457.6 L230.0 464.4 L235.0 478.0 L239.6 494.0 L249.0 503.6 L254.0 520.0 L258.0 538.0 L262.4 552.0 L265.0 564.0 L268.0 587.0 L273.0 603.0 L278.0 607.0 L283.0 604.0 L288.0 597.0 L292.4 586.4 L297.0 586.4 L302.0 596.0 L307.0 606.0 L312.0 608.0 L316.4 610.6 L321.0 610.0 L326.0 617.0 L331.0 618.6 L336.0 618.6 L341.0 621.4 L345.6 625.0 L350.4 626.6 L355.6 626.0 L360.0 625.0 L364.6 624.4 L369.0 623.6 L374.0 621.4 L378.6 620.0 L383.0 624.0 L389.0 632.0 L393.0 647.0 L398.0 661.0 L403.0 678.0 L408.0 693.0 L413.0 703.0 L418.0 706.0 L423.0 707.6 L428.0 703.0 L433.0 697.0 L438.0 694.4 L444.0 692.6 L446.0 690.0 L451.0 686.6 L456.0 686.6 L461.0 680.0 L466.0 676.4 L471.0 675.6 L476.0 677.0 L481.0 681.6 L486.0 683.6 L491.0 684.6 L496.0 684.0 L501.0 684.6 L506.0 684.4 L511.0 684.4 L515.6 683.0 L520.0 683.0 L524.0 685.0 L528.0 690.0 L533.0 696.0 L538.0 700.0 L543.0 699.0 L548.0 698.0 L553.0 698.0 L558.0 701.0 L563.0 704.0 L568.0 708.0 L573.0 711.6 L577.0 711.0 L582.0 713.0 L587.0 711.0 L591.0 706.0 L596.0 701.4 L601.0 700.4 L605.6 701.0 L610.0 703.0 L615.0 702.0 L620.0 702.6 L625.0 702.4 L630.0 704.0 L635.0 706.0 L640.0 709.0 L644.0 712.0 L649.0 716.0 L654.0 719.6 L659.0 719.6 L664.0 716.4 L669.0 716.0 L673.0 717.0 L678.0 720.4 L683.0 720.4 L688.0 719.0 L692.4 719.0 L697.0 721.6 L702.0 724.0 L707.0 723.0 L712.0 723.4 L717.0 724.0 L722.0 724.0 L727.0 714.0 L732.0 709.0 L737.0 707.0 L742.0 704.0 L747.0 700.0 L751.0 696.0 L755.0 693.0 L760.0 692.6 L765.0 693.0 L770.0 693.0 L775.0 694.0 L780.0 692.4 L785.0 689.4 L790.0 684.4 L795.0 677.6 L800.0 672.0 L804.0 669.6 L809.0 667.0 L814.0 664.0 L819.0 662.4 L823.0 660.6 L827.0 659.6 L832.0 663.0 L837.0 668.4 L841.6 671.0 L847.0 668.0 L852.0 664.4 L857.0 659.6 L861.0 657.6 L866.0 653.0 L870.0 652.4 L875.0 654.4 L880.0 655.0 L885.0 653.0 L890.0 655.6 L895.0 657.6 L900.0 660.0 L904.0 662.6 L909.0 661.4 L914.0 664.6 L919.0 665.6 L924.0 663.6 L928.6 662.0 L933.6 661.0 L938.0 660.6 L943.0 661.0 L948.0 661.0 L953.0 663.6 L958.0 668.0 L962.4 671.6 L967.0 671.6 L972.0 671.0 L977.0 666.0 L982.0 660.0 L986.4 657.6 L991.0 660.0 L996.0 659.0 L1001.0 658.0 L1006.0 657.6 L1010.0 658.0 L1015.0 659.6 L1020.0 661.0 L1025.0 659.6 L1030.0 657.0 L1035.0 658.0 L1040.0 658.0 L1044.4 657.6 L1049.0 656.0 L1054.0 655.4 L1059.0 654.6 L1064.0 653.6 L1069.0 653.0 L1073.0 651.0 L1077.0 636.0 L1082.0 632.6 L1087.0 631.0 L1092.0 622.0 L1097.0 614.0 L1102.0 605.0 L1107.0 597.0 L1112.0 592.6 L1117.0 589.0 L1121.0 585.6 L1126.0 585.0 L1131.0 588.0 L1136.0 591.6 L1141.0 594.6 L1145.0 596.0 L1150.0 593.6 L1155.0 594.0 L1160.0 595.6 L1164.0 597.0 L1170.0 598.6 L1174.0 601.0 L1179.0 601.0 L1183.0 607.0 L1188.0 622.6 L1193.0 623.0 L1198.0 633.0 L1203.0 641.0 L1208.0 653.0 L1212.4 663.0 L1217.0 670.0 L1222.0 677.0 L1227.0 681.0 L1232.0 684.0 L1237.0 685.4 L1242.0 683.4 L1247.0 680.0 L1252.0 674.6 L1257.0 673.0 L1262.0 673.6 L1267.0 674.0 L1271.0 673.6 L1276.0 672.6 L1281.0 669.4 L1285.0 667.4 L1290.0 671.4 L1295.0 673.0 L1300.0 674.6 L1305.0 671.4 L1309.0 667.0 L1312.0 653.0 L1315.0 635.0 L1318.0 613.0 L1323.0 610.0 L1328.0 606.6 L1332.0 606.0 L1337.0 602.0 L1342.0 598.0 L1347.0 591.0 L1353.0 584.0 M1395.0 581.0 L1400.0 582.0 L1405.0 586.0 L1409.6 589.4 L1414.4 589.4 L1419.0 584.0 L1424.0 581.4 L1429.0 578.6 L1434.0 574.0 L1439.0 573.0 L1443.6 573.6 L1448.0 571.6 L1453.0 569.4 L1458.0 574.0 L1463.0 577.0 L1468.0 574.4 L1472.6 563.4 L1477.0 574.6 L1482.0 575.0 L1487.0 575.4 L1492.0 576.0 L1497.0 576.6 L1502.0 580.0 L1507.0 585.4 L1512.0 585.6 L1518.0 585.0 L1524.0 584.4 L1527.0 584.6 M1539.6 585.4 L1545.0 583.0 L1550.0 574.6 L1555.6 574.0 M1564.0 575.0 L1568.6 579.0 L1573.6 580.4 L1578.6 583.0 L1583.6 582.6 L1588.6 582.4 L1593.6 582.4 L1598.0 580.0 L1603.0 572.0 L1608.0 567.0 L1613.0 563.4 L1616.0 572.0 L1620.0 584.0 L1623.0 594.0 L1627.0 603.0 L1632.0 604.6 L1637.0 605.0 L1642.0 606.0 L1647.0 607.6 M1664.0 607.6 L1670.4 607.6 L1675.0 607.4 L1680.0 607.0 L1685.0 606.6 L1689.0 618.0 L1694.0 626.0 L1699.0 624.6 L1704.0 627.6 L1709.0 628.6 L1714.0 629.0 L1719.0 632.0 L1723.6 638.0 L1728.4 636.4 L1733.0 640.0 L1738.0 647.0 L1743.0 646.0 L1747.6 651.0 L1752.4 655.0 L1757.6 659.0 L1763.0 662.6 L1768.0 663.6 L1771.4 665.0 L1776.0 670.4 L1781.0 674.4 L1786.0 674.6 L1791.0 673.6 L1796.0 673.4 L1801.4 670.0" stroke="#dbdb8d"/>
<path d="M81.0 625.4 L85.0 621.4 L90.0 617.0 L95.0 613.4 L99.6 611.0 L104.4 599.0 L109.4 588.0 L114.0 581.0 L119.0 583.0 L124.0 587.6 L128.6 592.0 L133.6 598.0 L138.0 601.0 L143.0 594.0 L148.0 586.0 L153.0 576.0 L158.0 566.0 L162.4 564.0 L167.4 561.0 L172.0 556.0 L177.0 557.6 L182.0 565.0 L187.0 572.0 L192.0 575.4 L197.0 579.0 L202.0 583.0 L206.0 588.0 L210.0 597.0 L215.0 608.0 L220.0 615.6 L224.4 614.0 L229.6 612.0 L234.4 609.6 L239.0 609.0 L244.0 610.0 L249.0 619.0 L254.0 628.0 L258.6 634.6 L263.6 638.0 L268.0 641.0 L273.0 640.6 L278.0 638.0 L281.0 625.0 L284.0 608.0 L288.0 589.0 L292.4 578.0 L297.0 576.6 L302.0 571.0 L304.0 567.0 L307.0 557.0 L312.0 551.0 M330.0 550.0 L336.0 546.0 L341.0 536.4 L346.0 537.0 L351.0 539.6 L356.0 541.6 L361.0 543.6 L366.0 546.0 L371.0 548.4 L375.0 550.4 L379.0 548.0 L383.0 530.0 L386.0 514.0 L389.0 502.0 L394.0 494.0 L399.0 489.0 L403.4 484.4 L408.0 487.0 L413.0 490.0 L418.0 495.0 L421.0 512.0 L424.0 528.0 L428.0 539.0 L433.0 548.0 L438.0 560.0 L440.0 567.0 L443.0 571.0 L446.0 579.0 L451.0 582.6 L456.0 579.6 L461.0 578.0 L466.0 577.0 L471.0 576.0 L476.0 576.0 L481.0 574.4 L486.0 570.0 L491.0 564.0 L495.0 560.0 L499.6 561.0 L502.0 574.0 L505.0 590.0 L508.0 606.0 L511.0 620.0 L514.0 628.4 L519.0 631.0 L523.6 636.6 L528.0 634.0 L533.0 632.6 L538.0 630.6 L543.6 630.6" stroke="#9edae5"/>
</g>
<rect x="80.5" y="46.5" width="1721.0" height="789.0" fill="none" stroke="#000" stroke-width="1.44"/>
<path d="M80.50 835.5 v6.3 M148.50 835.5 v6.3 M215.50 835.5 v6.3 M283.50 835.5 v6.3 M350.50 835.5 v6.3 M418.50 835.5 v6.3 M485.50 835.5 v6.3 M553.50 835.5 v6.3 M620.50 835.5 v6.3 M687.50 835.5 v6.3 M755.50 835.5 v6.3 M822.50 835.5 v6.3 M890.50 835.5 v6.3 M957.50 835.5 v6.3 M1025.50 835.5 v6.3 M1092.50 835.5 v6.3 M1160.50 835.5 v6.3 M1227.50 835.5 v6.3 M1295.50 835.5 v6.3 M1362.50 835.5 v6.3 M1429.50 835.5 v6.3 M1497.50 835.5 v6.3 M1564.50 835.5 v6.3 M1632.50 835.5 v6.3 M1699.50 835.5 v6.3 M1767.50 835.5 v6.3 M80.5 835.50 h-6.3 M80.5 703.50 h-6.3 M80.5 572.50 h-6.3 M80.5 440.50 h-6.3 M80.5 309.50 h-6.3 M80.5 177.50 h-6.3 M80.5 46.50 h-6.3" stroke="#000" stroke-width="1.44" fill="none"/>
<g font-size="18.06" fill="#000">
<g letter-spacing="-0.7">
<text x="74.61" y="861.3">1</text>
<text x="142.28" y="861.3">3</text>
<text x="209.79" y="861.3">5</text>
<text x="277.18" y="861.3">7</text>
<text x="344.64" y="861.3">9</text>
<text x="406.52" y="861.3">11</text>
<text x="473.91" y="861.3">13</text>
<text x="541.42" y="861.3">15</text>
<text x="608.85" y="861.3">17</text>
<text x="676.18" y="861.3">19</text>
<text x="744.15" y="861.3">21</text>
<text x="811.53" y="861.3">23</text>
<text x="879.04" y="861.3">25</text>
<text x="946.48" y="861.3">27</text>
<text x="1013.81" y="861.3">29</text>
<text x="1081.42" y="861.3">31</text>
<text x="1148.81" y="861.3">33</text>
<text x="1216.32" y="861.3">35</text>
<text x="1283.75" y="861.3">37</text>
<text x="1351.08" y="861.3">39</text>
<text x="1418.99" y="861.3">41</text>
<text x="1486.37" y="861.3">43</text>
<text x="1553.88" y="861.3">45</text>
<text x="1621.32" y="861.3">47</text>
<text x="1688.65" y="861.3">49</text>
<text x="1756.02" y="861.3">51</text>
<text x="56.01" y="842.40">5</text>
<text x="44.85" y="710.40">10</text>
<text x="45.25" y="579.40">15</text>
<text x="44.85" y="447.40">20</text>
<text x="45.25" y="316.40">25</text>
<text x="44.85" y="184.40">30</text>
<text x="45.25" y="53.40">35</text>
</g>
<text x="940.2" y="886" text-anchor="middle" letter-spacing="-0.38">Week</text>
<text transform="translate(33.5 442.8) rotate(-90)" text-anchor="middle" letter-spacing="-0.13">RMSE</text>
</g>
<text x="941" y="35.2" text-anchor="middle" font-size="21.72">RMSE per jaar met dagelijkse resolutie (rolling RMS gesmoothed)</text>
<rect x="1598" y="54" width="195" height="114" rx="2.9" fill="#fff" fill-opacity="0.8" stroke="#ccc" stroke-opacity="0.8" stroke-width="1.8"/>
<text x="1695.2" y="73" text-anchor="middle" font-size="18.06" letter-spacing="-0.37">Jaar</text>
<g font-size="14.44">
<path d="M1603.1 90.5 h31.9" stroke="#1f77b4" stroke-opacity="0.95" stroke-width="2.71"/>
<text x="1644.1" y="95.6">2019</text>
<path d="M1603.1 112.5 h31.9" stroke="#ff7f0e" stroke-opacity="0.95" stroke-width="2.71"/>
<text x="1644.1" y="116.8">2020</text>
<path d="M1603.1 133.5 h31.9" stroke="#98df8a" stroke-opacity="0.95" stroke-width="2.71"/>
<text x="1644.1" y="138.0">2021</text>
<path d="M1603.1 154.5 h31.9" stroke="#9467bd" stroke-opacity="0.95" stroke-width="2.71"/>
<text x="1644.1" y="159.2">2022</text>
<path d="M1709.3 90.5 h31.9" stroke="#c49c94" stroke-opacity="0.95" stroke-width="2.71"/>
<text x="1751.0" y="95.6">2023</text>
<path d="M1709.3 112.5 h31.9" stroke="#7f7f7f" stroke-opacity="0.95" stroke-width="2.71"/>
<text x="1751.0" y="116.8">2024</text>
<path d="M1709.3 133.5 h31.9" stroke="#dbdb8d" stroke-opacity="0.95" stroke-width="2.71"/>
<text x="1751.0" y="138.0">2025</text>
<path d="M1709.3 154.5 h31.9" stroke="#9edae5" stroke-opacity="0.95" stroke-width="2.71"/>
<text x="1751.0" y="159.2">2026</text>
</g>
</svg>
</body></html>
